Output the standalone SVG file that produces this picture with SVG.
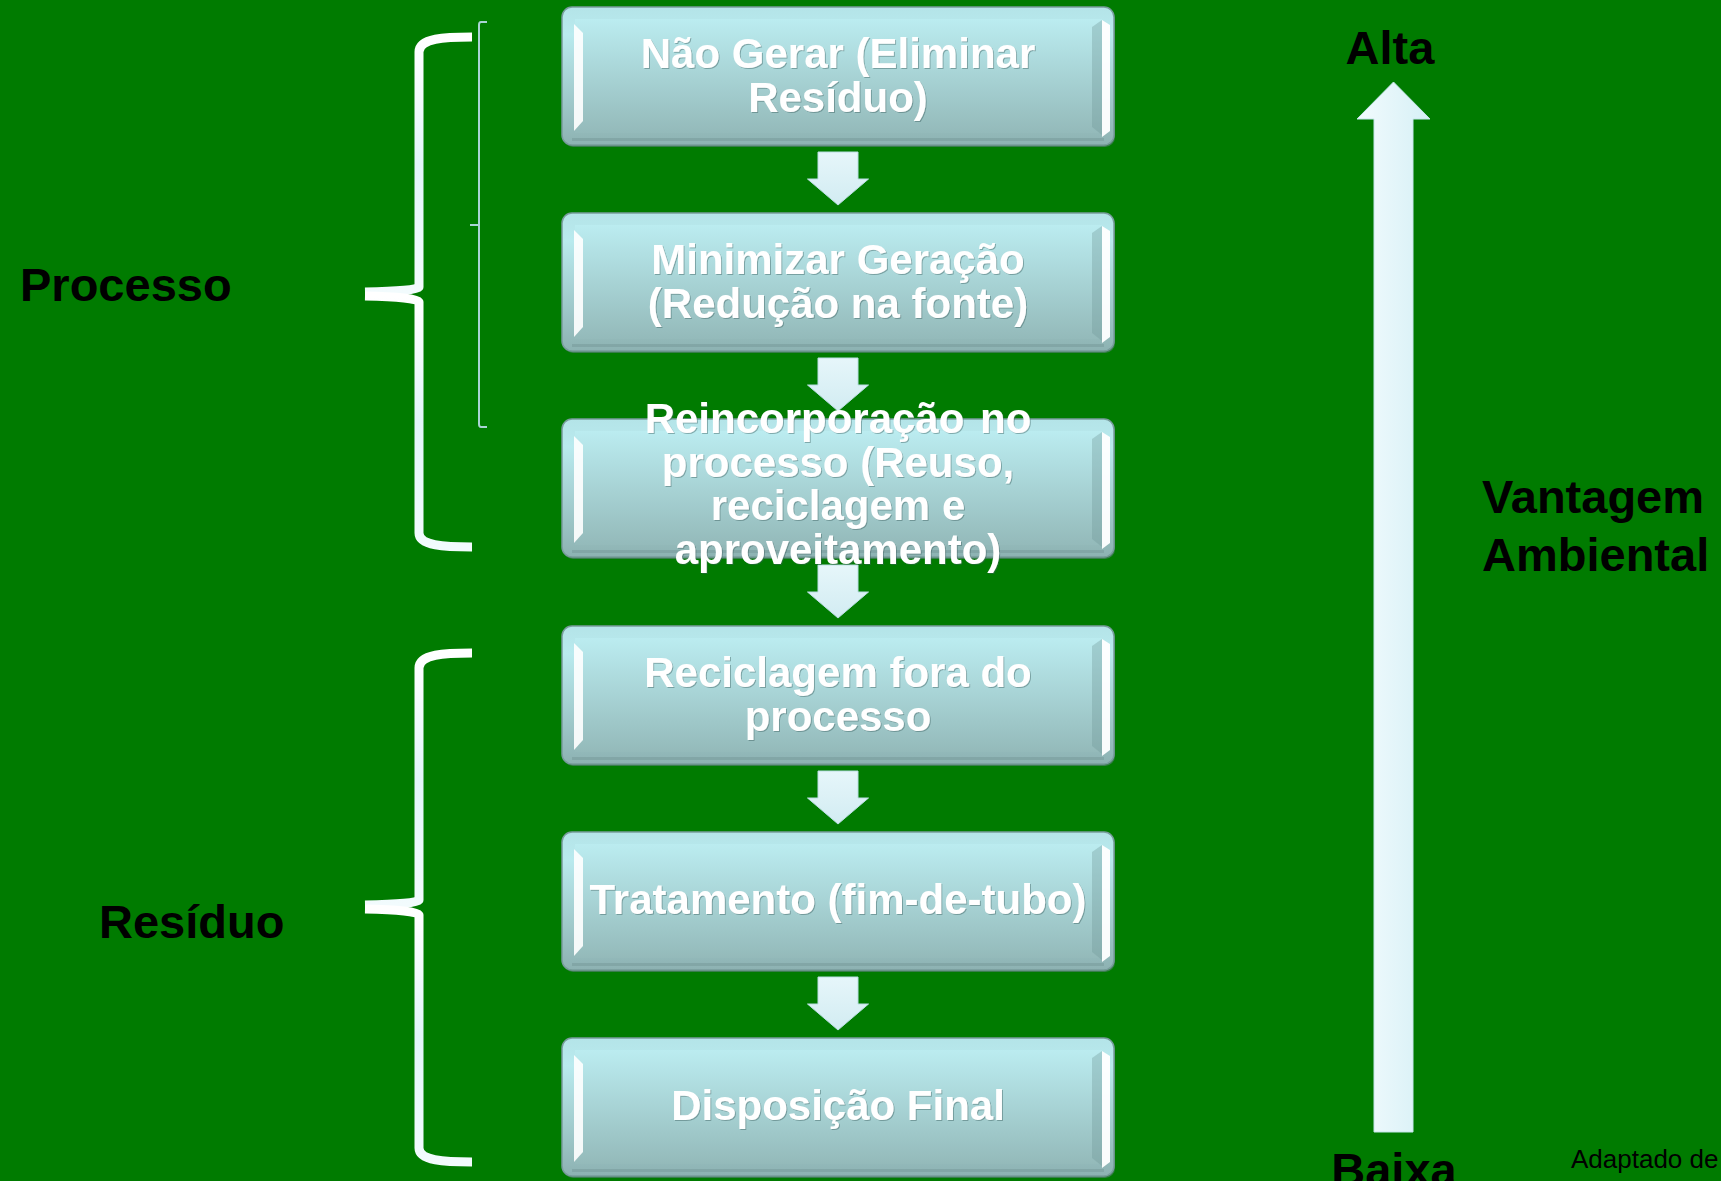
<svg xmlns="http://www.w3.org/2000/svg" width="1721" height="1181" viewBox="0 0 1721 1181">
  <defs>
    <linearGradient id="boxGrad" x1="0" y1="0" x2="0" y2="1">
      <stop offset="0" stop-color="#b4e4e8"/>
      <stop offset="0.2" stop-color="#b9eaee"/>
      <stop offset="1" stop-color="#8db2b2"/>
    </linearGradient>
    <linearGradient id="faceGrad" x1="0" y1="0" x2="0" y2="1">
      <stop offset="0" stop-color="#bbecf0"/>
      <stop offset="1" stop-color="#94baba"/>
    </linearGradient>
    <linearGradient id="braceGrad" x1="0" y1="0" x2="0" y2="1">
      <stop offset="0" stop-color="#ffffff"/>
      <stop offset="0.5" stop-color="#e2f5fa"/>
      <stop offset="1" stop-color="#f2fbfd"/>
    </linearGradient>
    <linearGradient id="upGrad" x1="0" y1="0" x2="1" y2="0">
      <stop offset="0" stop-color="#f2fbfd"/>
      <stop offset="1" stop-color="#d6f0f6"/>
    </linearGradient>
    <linearGradient id="downGrad" x1="0" y1="0" x2="0" y2="1">
      <stop offset="0" stop-color="#e6f6fa"/>
      <stop offset="1" stop-color="#d2ecf2"/>
    </linearGradient>
    <filter id="ts" x="-5%" y="-20%" width="110%" height="140%">
      <feDropShadow dx="1" dy="1" stdDeviation="0.6" flood-color="#3d5f5f" flood-opacity="0.45"/>
    </filter>
    <symbol id="box" viewBox="0 0 552 138" width="552" height="138" overflow="visible">
      <rect x="1" y="2" width="552" height="138" rx="10" fill="#5f8080" opacity="0.6"/>
      <rect x="0" y="0" width="552" height="138" rx="10" fill="url(#boxGrad)" stroke="#789c9c" stroke-width="1.5"/>
      <rect x="13" y="12" width="527" height="114" fill="url(#faceGrad)"/>
      <polygon points="12,17 21,26 21,114 12,124" fill="#ffffff" opacity="0.9"/>
      <polygon points="530,20 540,13 540,128 530,120" fill="#6f9898" opacity="0.35"/>
      <polygon points="540,13 548,18 548,124 540,130" fill="#ffffff" opacity="0.95"/>
      <rect x="10" y="131" width="532" height="3" fill="#6f9090" opacity="0.4"/>
    </symbol>
    <path id="down" d="M-20,0 L20,0 L20,27 L30.5,27 L0,53 L-30.5,27 L-20,27 Z" fill="url(#downGrad)" stroke="#b9dde2" stroke-width="1"/>
  </defs>
  <style>
    .bt { font-family: "Liberation Sans", Arial, sans-serif; font-weight: bold; font-size: 42px; fill: #ffffff; text-anchor: middle; filter: url(#ts); }
    .lb { font-family: "Liberation Sans", Arial, sans-serif; font-weight: bold; font-size: 47px; fill: #000000; }
    .brace { fill: none; stroke: url(#braceGrad); stroke-width: 9; stroke-linejoin: round; stroke-linecap: butt; }
    .thin { fill: none; stroke: #a9d4d4; stroke-width: 2; }
  </style>
  <rect x="0" y="0" width="1721" height="1181" fill="#007b00"/>

  <g id="connectors">
    <use href="#down" x="838" y="152"/>
    <use href="#down" x="838" y="358"/>
    <use href="#down" x="838" y="565"/>
    <use href="#down" x="838" y="771"/>
    <use href="#down" x="838" y="977"/>
  </g>

  <g id="node1">
    <use href="#box" x="562" y="7"/>
    <text class="bt" x="838" y="68">Não Gerar (Eliminar</text>
    <text class="bt" x="838" y="112">Resíduo)</text>
  </g>
  <g id="node2">
    <use href="#box" x="562" y="213"/>
    <text class="bt" x="838" y="274">Minimizar Geração</text>
    <text class="bt" x="838" y="318">(Redução na fonte)</text>
  </g>
  <g id="node3">
    <use href="#box" x="562" y="419"/>
    <text class="bt" x="838" y="433" word-spacing="4">Reincorporação no</text>
    <text class="bt" x="838" y="476.5">processo (Reuso,</text>
    <text class="bt" x="838" y="520">reciclagem e</text>
    <text class="bt" x="838" y="563.5">aproveitamento)</text>
  </g>
  <g id="node4">
    <use href="#box" x="562" y="626"/>
    <text class="bt" x="838" y="687">Reciclagem fora do</text>
    <text class="bt" x="838" y="731">processo</text>
  </g>
  <g id="node5">
    <use href="#box" x="562" y="832"/>
    <text class="bt" x="838" y="914">Tratamento (fim-de-tubo)</text>
  </g>
  <g id="node6">
    <use href="#box" x="562" y="1038"/>
    <text class="bt" x="838" y="1120">Disposição Final</text>
  </g>

  <g id="brace-processo">
    <path class="brace" d="M472,37 C445,37 419,38 419,52 L419,287 Q416,291 365,292"/>
    <path class="brace" d="M365,296 Q416,297 419,302 L419,533 C419,546 445,547 472,547"/>
    <path class="thin" d="M487,22 L481,22 Q479,22 479,25 L479,424 Q479,427 481,427 L487,427 M470,225 L479,225"/>
    <text class="lb" x="20" y="301">Processo</text>
  </g>
  <g id="brace-residuo">
    <path class="brace" d="M472,653 C445,653 419,654 419,668 L419,900 Q416,904 365,905"/>
    <path class="brace" d="M365,909 Q416,910 419,915 L419,1148 C419,1161 445,1162 472,1162"/>
    <text class="lb" x="99" y="938">Resíduo</text>
  </g>

  <g id="scale">
    <path d="M1393.5,82 L1430,119 L1413,119 L1413,1132 L1374,1132 L1374,119 L1357,119 Z" fill="url(#upGrad)" stroke="#c4e6ea" stroke-width="1"/>
    <text class="lb" x="1390" y="64" text-anchor="middle">Alta</text>
    <text class="lb" x="1394" y="1186" text-anchor="middle">Baixa</text>
    <text class="lb" x="1482" y="513">Vantagem</text>
    <text class="lb" x="1482" y="571">Ambiental</text>
    <text x="1571" y="1168" font-family="Liberation Sans, Arial, sans-serif" font-size="26" fill="#000000">Adaptado de</text>
  </g>
</svg>
